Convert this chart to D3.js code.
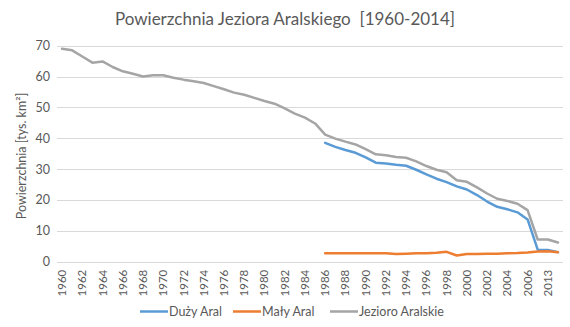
<!DOCTYPE html>
<html><head><meta charset="utf-8">
<script src="https://cdn.jsdelivr.net/npm/d3@7/dist/d3.min.js"></script>
<style>body{margin:0;background:#fff}svg{display:block;font-family:Lato,"Open Sans",sans-serif}</style>
</head><body>
<script>
const years = [];
for (let y = 1960; y <= 2006; y++) years.push(String(y));
years.push("2010", "2013", "2014");

const dużyAral = [null,null,null,null,null,null,null,null,null,null,null,null,null,null,null,null,null,null,null,null,null,null,null,null,null,null,
  38.5,37.2,36.2,35.3,33.8,32.1,31.8,31.4,31.1,29.8,28.3,26.9,25.8,24.4,23.4,21.6,19.5,17.8,17.0,16.0,13.7,3.9,3.8,3.1];
const małyAral = [null,null,null,null,null,null,null,null,null,null,null,null,null,null,null,null,null,null,null,null,null,null,null,null,null,null,
  2.7,2.7,2.7,2.7,2.7,2.7,2.7,2.5,2.6,2.7,2.7,2.9,3.2,2.0,2.5,2.5,2.6,2.6,2.7,2.8,3.0,3.3,3.4,3.1];
const jezioro = [69.0,68.5,66.5,64.5,64.9,63.1,61.7,60.9,60.0,60.4,60.4,59.6,59.0,58.5,57.9,56.9,55.9,54.8,54.1,53.1,52.1,51.2,49.7,48.0,46.7,44.8,
  41.2,39.9,38.9,38.0,36.5,34.8,34.5,33.9,33.7,32.5,31.0,29.8,29.0,26.4,25.9,24.1,22.1,20.4,19.7,18.8,16.7,7.2,7.2,6.2];
const seriesNames = ["Duży Aral", "Mały Aral", "Jezioro Aralskie"];
const seriesColors = ["#5B9BD5", "#ED7D31", "#A5A5A5"];
const yTicks = [0,10,20,30,40,50,60,70];
const title = "Powierzchnia Jeziora Aralskiego  [1960-2014]";
const yTitle = "Powierzchnia [tys. km²]";

const W = 570, H = 327;
const svg = d3.select("body").append("svg").attr("width", W).attr("height", H);
const x = d3.scaleBand().domain(years).range([57, 563]);
const y = d3.scaleLinear().domain([0, 70]).range([261.7, 45.7]);

// gridlines
svg.append("g").selectAll("line").data(yTicks).join("line")
  .attr("x1", 57).attr("x2", 563)
  .attr("y1", d => Math.round(y(d)) + 0.5).attr("y2", d => Math.round(y(d)) + 0.5)
  .attr("stroke", "#D9D9D9").attr("stroke-width", 1);

// y axis
const ya = svg.append("g").attr("transform", "translate(50,0)")
  .call(d3.axisLeft(y).tickValues(yTicks).tickSize(0).tickPadding(0));
ya.select(".domain").remove();
ya.selectAll("text").attr("fill", "#595959").style("font-size", "12.5px").style("font-family", "Lato");

// x axis
const xa = svg.append("g").attr("transform", `translate(0,${261.7})`)
  .call(d3.axisBottom(x).tickValues(years.filter((d, i) => i % 2 === 0)).tickSize(0));
xa.select(".domain").remove();
xa.selectAll("text")
  .attr("fill", "#595959").style("font-size", "11.5px").style("font-family", "Lato")
  .attr("transform", "rotate(-90)").attr("text-anchor", "end")
  .attr("x", -8).attr("y", 0).attr("dy", "0.35em");

// lines
const data = [dużyAral, małyAral, jezioro];
const line = d3.line().defined(d => d.v != null).x(d => x(d.k) + x.bandwidth() / 2).y(d => y(d.v));
const order = [2, 0, 1];
order.forEach(si => {
  svg.append("path")
    .datum(years.map((k, i) => ({ k, v: data[si][i] })))
    .attr("d", line).attr("fill", "none")
    .attr("stroke", seriesColors[si]).attr("stroke-width", 2.5)
    .attr("stroke-linejoin", "round").attr("stroke-linecap", "round");
});

// title
svg.append("text").attr("x", 285).attr("y", 25).attr("text-anchor", "middle")
  .attr("fill", "#595959").style("font-size", "17px").style("white-space", "pre").text(title);

// y title
svg.append("text").attr("transform", "translate(26,156) rotate(-90)")
  .attr("text-anchor", "middle").attr("fill", "#595959").style("font-size", "12.5px").text(yTitle);

// legend
const legX = [140, 233, 330];
const lg = svg.append("g");
seriesNames.forEach((n, i) => {
  lg.append("line").attr("x1", legX[i]).attr("x2", legX[i] + 28).attr("y1", 311.5).attr("y2", 311.5)
    .attr("stroke", seriesColors[i]).attr("stroke-width", 2.5);
  lg.append("text").attr("x", legX[i] + 29).attr("y", 316).attr("fill", "#595959")
    .style("font-size", "12.5px").text(n);
});
</script>
</body></html>
